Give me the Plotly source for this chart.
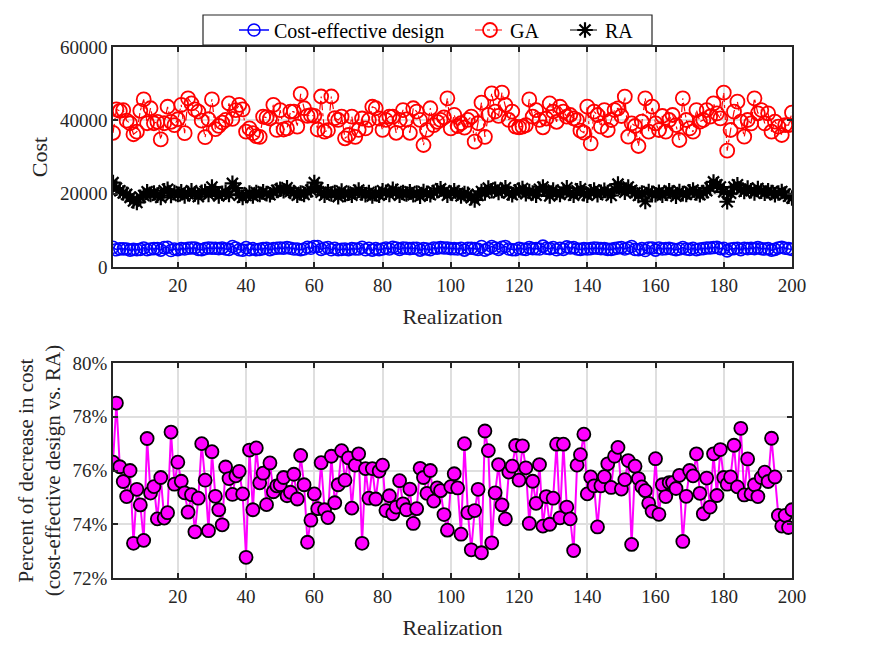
import plotly.graph_objects as go
from plotly.subplots import make_subplots

realization = list(range(1, 201))

ga_cost = [
    36600, 43000, 42560, 42800, 39900, 39200, 36200, 36900, 42600, 45700,
    39200, 43300, 39200, 39600, 34800, 39200, 43700, 39600, 38700, 40300,
    44200, 36500, 46000, 44600, 43000, 42400, 39900, 35400, 40300, 45700,
    37600, 38500, 39400, 40100, 44600, 40400, 42800, 44200, 43000, 36900,
    37800, 36500, 35700, 35500, 41000, 40800, 40500, 44200, 37400, 42800,
    37500, 37800, 42400, 42400, 38300, 47200, 43300, 41200, 41400, 41200,
    37500, 46500, 36900, 37300, 46500, 40600, 40100,
    41000, 35100, 36000, 41000, 35500, 37400, 40500, 37800, 40100, 43700,
    43300, 40500, 37400, 40100, 41000, 41000, 36600, 40100, 42800, 40270,
    36600, 43300, 42400, 40100, 33270, 37400, 43300, 38700, 39600, 40100,
    40800, 46000, 37800, 41500, 38450, 39200, 38000, 40100, 41000, 34180,
    39200, 44820, 35500, 41500, 47360, 42400, 41200, 47550, 44180, 40100,
    42400, 38300, 38100, 38300, 38700, 45700, 41000, 42800, 40100, 38100,
    40500, 44600, 42400, 39600, 43700, 42400, 41000,
    41450, 40540, 40090, 37180, 36630, 43730, 33730, 42360, 41450, 38270,
    42810, 37360, 40090, 42810, 43270, 41180, 46450, 35540, 39180, 38450,
    33000, 39630, 46000, 36900, 43730, 39180, 37360, 41180, 36900, 40090,
    41450, 38720, 34630, 46000, 40090, 37820, 36900, 42810, 39630, 40090,
    42810, 41000, 44630, 41910, 40540, 47550, 31730, 37360, 42360, 45090,
    39630, 35540, 40090, 39180, 46000, 41910, 42810, 39180, 41910, 36900,
    39630, 38270, 36000, 38720, 38720, 42090,
]

ra_cost = [
    23000, 21500, 20800, 20200, 19800, 19000, 18000, 17600, 19000, 19500,
    20500, 19800, 20200, 19600, 19000, 20800, 21200, 19500, 20300, 19800,
    20500, 19400, 20000, 20800, 19900, 19200, 20400, 20600, 19800, 21800,
    20500, 19400, 20100, 20400, 19800, 22800, 21500, 19600, 19000, 19500,
    20200, 19400, 20300, 19800, 20500, 20000, 19700, 20400, 20900, 21200,
    20800, 21600, 20600, 20300, 19600, 20200, 19800, 20600, 21000, 23000,
    21600, 20400, 19600, 20500, 19900, 20300, 19200, 20700, 19800, 20100,
    19600, 20400, 21000, 20200, 19700, 20300, 19400, 20000, 19600, 20800,
    20400, 19800, 21200, 20600, 19600, 20300, 19900, 20500, 19700, 20200,
    19300, 20600, 20100, 19700, 20400, 20800, 21300, 20500, 19600, 20200,
    20800, 20100, 19400, 20000, 19800, 18900, 18300, 19500, 20600, 20200,
    21500, 20800, 21200, 20300, 20900, 21600, 20200, 19700, 20500, 21000,
    21400, 20000, 20600, 20200, 19600, 21200, 21800, 20700, 19400, 21000,
    20300, 19800, 20600, 21600, 20100, 19600, 20800, 21300, 20000, 19600,
    20500, 21000, 19700, 20400, 20900, 20300, 19500, 21200, 22600, 21500,
    20400, 21800, 20900, 20200, 19500, 20200, 17900, 20600, 20100, 19700,
    20400, 19600, 20100, 20800, 20200, 19300, 20600, 20000, 19800, 20500,
    21000, 20200, 19700, 20300, 20800, 21600, 23200, 22400, 21800, 20500,
    17800, 20100, 21800, 22400, 21200, 20600, 21500, 20800, 20200, 21400,
    20700, 20100, 20800, 20300, 19700, 20200, 20600, 19900, 19300, 18800,
]

ce_cost = [
    5400, 4700, 4950, 4950, 4900, 4600, 4800, 4700, 4800, 5200,
    4700, 4900, 5000, 5000, 4600, 5300, 5400, 4500, 4900, 4700,
    5000, 4900, 5100, 5200, 5200, 4800, 4700, 5000, 5200, 5100,
    5100, 5000, 5200, 4900, 4800, 5600, 5200, 4700, 4600, 5300,
    4700, 5000, 4700, 4800, 5000, 5100, 4700, 5000, 5100, 5200,
    5100, 5300, 5100, 4900, 4900, 4700, 4900, 5400, 5100, 5600,
    5600, 4800, 5100, 5300, 4700, 5100, 4700, 4800, 4900, 4700,
    5000, 4900, 4900, 5400, 4700, 5100, 4600, 5000, 4700, 4900,
    5200, 4900, 5400, 5200, 4800, 5200, 5100, 5000, 5100, 5100,
    4600, 5000, 4900, 4700, 5200, 5100, 5300, 5200, 5200, 5000,
    5000, 4900, 5100, 4600, 5100, 5100, 5000, 4800, 5600, 4600,
    5000, 5600, 5200, 4800, 5400, 5600, 4900, 4700, 4700, 5100,
    4900, 4800, 5300, 5000, 5000, 4900, 5700, 5100, 5000, 5300,
    4700, 5100, 4800, 5500, 5200, 5300, 4900, 4800, 5000, 4900,
    5000, 5200, 5100, 5000, 5000, 4800, 4800, 5000, 5200, 5300,
    4900, 5200, 5600, 4800, 4700, 5000, 4500, 5200, 5200, 4600,
    5200, 4900, 5000, 5100, 4900, 4700, 4900, 5300, 4900, 4800,
    5100, 4700, 4900, 5000, 5200, 5200, 5300, 5400, 5000, 5100,
    4400, 4900, 5000, 5100, 4700, 5100, 5000, 5100, 5000, 5300,
    5000, 4900, 5000, 4600, 4800, 5200, 5400, 5100, 5000, 4800,
]

pct_decrease = [
    76.31, 78.51, 76.14, 75.59, 75.03, 76.00, 73.29, 75.30, 74.72, 73.40,
    77.19, 75.16, 75.40, 74.20, 75.74, 74.23, 74.43, 77.43, 75.49, 76.31,
    75.60, 75.17, 74.45, 75.10, 73.72, 74.97, 77.00, 75.64, 73.76, 76.70,
    75.04, 74.54, 73.98, 76.13, 75.70, 75.11, 75.80, 75.97, 75.13, 72.77,
    76.76, 74.54, 76.84, 75.54, 75.90, 74.73, 76.28, 75.21, 75.43, 75.47,
    75.74, 75.06, 75.19, 75.86, 74.94, 76.56, 75.47, 73.33, 74.15, 75.13,
    74.58, 76.29, 74.54, 74.25, 76.53, 74.80, 75.47, 76.74, 75.64, 76.47,
    74.60, 76.20, 76.62, 73.29, 76.07, 74.97, 76.07, 74.94, 75.98, 76.20,
    74.51, 75.06, 74.39, 74.64, 75.62, 74.76, 74.54, 75.31, 74.03, 74.58,
    76.08, 75.74, 75.15, 76.00, 74.86, 75.35, 75.25, 74.36, 73.78, 75.40,
    75.88, 75.35, 73.63, 77.00, 74.43, 73.05, 74.51, 75.30, 72.94, 77.47,
    76.74, 73.31, 75.17, 76.22, 74.72, 74.20, 75.94, 76.16, 76.93, 75.64,
    76.92, 76.10, 74.03, 75.60, 74.78, 76.22, 73.93, 75.03, 74.00, 74.97,
    76.98, 74.24, 76.98, 74.64, 74.20, 73.02, 76.20, 76.59, 77.35, 75.13,
    75.76, 75.43, 73.90, 75.43, 75.77, 76.25, 75.37, 76.53, 76.86, 75.31,
    75.66, 76.37, 73.25, 76.16, 75.70, 75.39, 75.25, 74.78, 74.48, 76.44,
    74.37, 75.47, 75.03, 75.55, 75.55, 75.33, 75.82, 73.36, 75.04, 76.00,
    75.80, 76.62, 75.15, 74.39, 75.72, 74.64, 76.62, 75.07, 76.78, 75.74,
    75.49, 75.76, 76.94, 75.39, 77.57, 75.09, 76.43, 75.13, 75.47, 75.03,
    75.74, 75.94, 75.59, 77.20, 75.76, 74.33, 73.93, 74.33, 73.88, 74.54,
]

x_ticks = [20, 40, 60, 80, 100, 120, 140, 160, 180, 200]
cost_ticks = [0, 20000, 40000, 60000]
cost_tick_labels = ["0", "20000", "40000", "60000"]
pct_ticks = [72, 74, 76, 78, 80]
pct_tick_labels = ["72%", "74%", "76%", "78%", "80%"]

FONT = "Liberation Serif"
W = 875.0
H = 657.0
TXT = "#262626"

fig = make_subplots(rows=2, cols=1)

fig.add_trace(go.Scatter(
    x=realization, y=ce_cost, name="Cost-effective design", mode="lines+markers",
    legend="legend",
    line=dict(color="#0000ff", width=1.5),
    marker=dict(symbol="circle-open", size=12, color="#0000ff", line=dict(width=1.6)),
), row=1, col=1)
fig.add_trace(go.Scatter(
    x=realization, y=ga_cost, name="GA", mode="lines+markers",
    legend="legend2",
    line=dict(color="#ff0000", width=1.2, dash="dashdot"),
    marker=dict(symbol="circle-open", size=14, color="#ff0000", line=dict(width=1.8)),
), row=1, col=1)
fig.add_trace(go.Scatter(
    x=realization, y=ra_cost, name="RA", mode="lines+markers",
    legend="legend3",
    line=dict(color="#000000", width=1.2, dash="dash"),
    marker=dict(symbol="asterisk-open", size=13, color="#000000", line=dict(width=2.2, color="#000000")),
), row=1, col=1)
fig.add_trace(go.Scatter(
    x=realization, y=pct_decrease, name="pct", mode="lines+markers", showlegend=False,
    line=dict(color="#ff00ff", width=2),
    marker=dict(symbol="circle", size=13, color="#ff00ff", line=dict(width=1.8, color="#000000")),
), row=2, col=1)

axis_common = dict(
    showline=True, linecolor=TXT, linewidth=1.5, mirror="allticks",
    ticks="inside", ticklen=5, tickwidth=1.5, tickcolor=TXT,
    showgrid=True, gridcolor="#dfdfdf", gridwidth=1.5, zeroline=False,
    tickfont=dict(family=FONT, size=19, color=TXT),
)

fig.update_xaxes(**axis_common, range=[1, 200], tickvals=x_ticks,
                 title=dict(text="Realization", font=dict(family=FONT, size=22, color=TXT), standoff=14))
fig.update_yaxes(**axis_common)

fig.update_yaxes(range=[0, 60000], tickvals=cost_ticks, ticktext=cost_tick_labels, row=1, col=1,
                 title=dict(text="Cost", font=dict(family=FONT, size=22, color=TXT), standoff=6))
fig.update_yaxes(range=[72, 80], tickvals=pct_ticks, ticktext=pct_tick_labels, row=2, col=1,
                 title=dict(text="Percent of decrease in cost<br>(cost-effective design vs. RA)",
                            font=dict(family=FONT, size=21, color=TXT), standoff=6))

leg_common = dict(orientation="h", xref="container", yref="container", yanchor="middle",
                  y=1 - 30 / H, xanchor="left", bgcolor="rgba(0,0,0,0)", borderwidth=0,
                  font=dict(family=FONT, size=20, color="#000000"))

fig.update_layout(
    width=875, height=657,
    margin=dict(l=113, r=83, t=0, b=0, autoexpand=False),
    plot_bgcolor="white", paper_bgcolor="white",
    font=dict(family=FONT, color=TXT),
    xaxis=dict(domain=[0, 1], anchor="y"),
    yaxis=dict(domain=[(H - 267) / H, (H - 47) / H]),
    xaxis2=dict(domain=[0, 1], anchor="y2"),
    yaxis2=dict(domain=[(H - 578) / H, (H - 363) / H]),
    legend=dict(**leg_common, x=234 / W),
    legend2=dict(**leg_common, x=470 / W),
    legend3=dict(**leg_common, x=565 / W),
    shapes=[dict(type="rect", xref="paper", yref="paper",
                 x0=(203 - 113) / 679, x1=(652 - 113) / 679,
                 y0=1 - 45 / H, y1=1 - 15 / H,
                 line=dict(color=TXT, width=1.2), fillcolor="white", layer="below")],
)

fig.write_html("out.html")
